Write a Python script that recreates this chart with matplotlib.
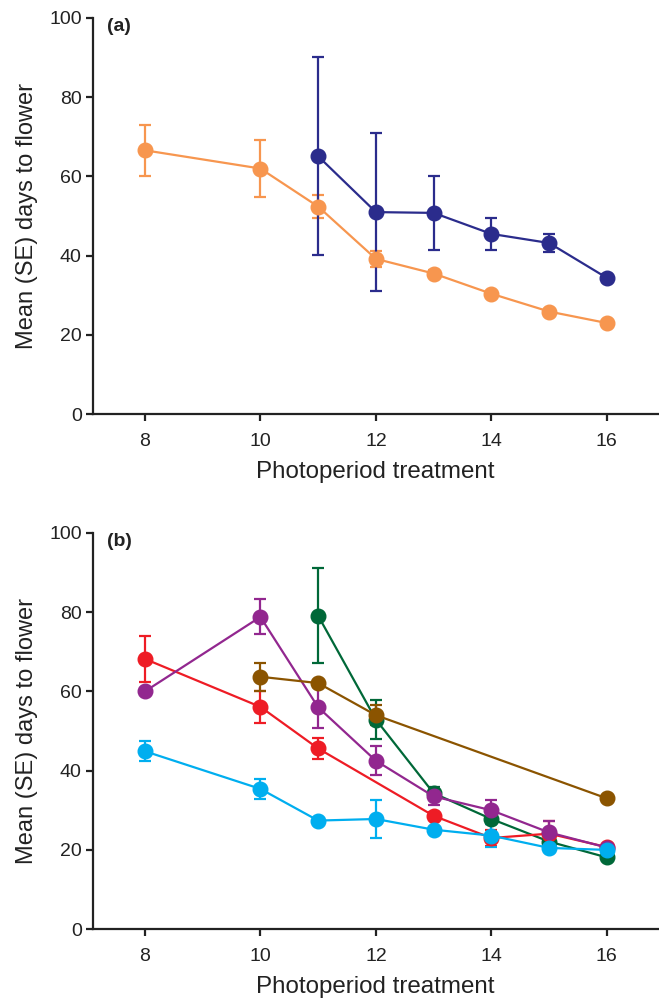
"""Days to flower against photoperiod treatment, two panels."""

import matplotlib

matplotlib.use("Agg", force=True)
import matplotlib.pyplot as plt

plt.rcParams["font.family"] = ["Liberation Sans", "DejaVu Sans"]

# panel (a)
a_orange_x = [8, 10, 11, 12, 13, 14, 15, 16]
a_orange_mean = [66.6, 62.0, 52.4, 39.2, 35.5, 30.4, 25.9, 23.0]
a_orange_se = [6.5, 7.1, 3.0, 2.0, 1.0, 0.6, 0.6, 0.5]

a_navy_x = [11, 12, 13, 14, 15, 16]
a_navy_mean = [65.1, 51.0, 50.8, 45.5, 43.2, 34.4]
a_navy_se = [25.0, 20.0, 9.3, 4.0, 2.3, 1.0]

# panel (b)
b_green_x = [11, 12, 13, 14, 15, 16]
b_green_mean = [79.1, 52.9, 34.3, 27.8, 22.1, 18.1]
b_green_se = [12.0, 5.0, 1.5, 1.3, 0.8, 0.6]

b_red_x = [8, 10, 11, 13, 14, 15, 16]
b_red_mean = [68.2, 56.1, 45.6, 28.6, 23.0, 24.1, 20.7]
b_red_se = [5.7, 4.1, 2.6, 1.0, 2.1, 3.2, 0.6]

b_purple_x = [8, 10, 11, 12, 13, 14, 15, 16]
b_purple_mean = [60.0, 78.8, 56.0, 42.5, 33.5, 30.0, 24.4, 20.6]
b_purple_se = [0.5, 4.4, 5.2, 3.7, 2.1, 2.7, 2.8, 0.6]

b_brown_x = [10, 11, 12, 16]
b_brown_mean = [63.7, 62.1, 54.0, 33.0]
b_brown_se = [3.5, 0.5, 2.5, 0.5]

b_cyan_x = [8, 10, 11, 12, 13, 14, 15, 16]
b_cyan_mean = [44.9, 35.4, 27.4, 27.8, 25.1, 23.6, 20.5, 20.0]
b_cyan_se = [2.5, 2.5, 0.5, 4.7, 0.8, 2.9, 0.8, 0.6]

x_ticks = [8, 10, 12, 14, 16]
y_ticks = [0, 20, 40, 60, 80, 100]


def _draw_series(ax, x, mean, se, color):
    ax.errorbar(
        x, mean, yerr=se, color=color, ecolor=color, marker="o",
        markersize=10.5, linewidth=1.6, elinewidth=1.6, capsize=4.5,
        capthick=1.6, clip_on=False,
    )


def _style_axes(ax, label):
    ax.set_xlim(7.1, 16.88)
    ax.set_ylim(0, 100)
    ax.set_xticks(x_ticks)
    ax.set_yticks(y_ticks)
    for side in ("top", "right"):
        ax.spines[side].set_visible(False)
    for side in ("left", "bottom"):
        ax.spines[side].set_linewidth(1.6)
        ax.spines[side].set_color("#222222")
    ax.tick_params(direction="out", length=5, width=1.6, color="#222222",
                   labelsize=14, pad=3, labelcolor="#222222")
    ax.tick_params(axis="x", pad=8.5)
    ax.set_xlabel("Photoperiod treatment", fontsize=17.4, labelpad=8,
                  color="#222222")
    ax.set_ylabel("Mean (SE) days to flower", fontsize=17, labelpad=8,
                  color="#222222")
    ax.text(0.025, 1.0, label, transform=ax.transAxes, fontsize=14,
            fontweight="bold", va="top", ha="left", color="#222222")


fig = plt.figure(figsize=(6.59, 9.98), dpi=100)
ax_a = fig.add_axes([0.141, 0.585, 0.857, 0.397])
ax_b = fig.add_axes([0.141, 0.069, 0.857, 0.397])

_draw_series(ax_a, a_orange_x, a_orange_mean, a_orange_se, "#F7964F")
_draw_series(ax_a, a_navy_x, a_navy_mean, a_navy_se, "#2B2C8C")
_style_axes(ax_a, "(a)")

_draw_series(ax_b, b_green_x, b_green_mean, b_green_se, "#006838")
_draw_series(ax_b, b_red_x, b_red_mean, b_red_se, "#EE1C25")
_draw_series(ax_b, b_purple_x, b_purple_mean, b_purple_se, "#92278F")
_draw_series(ax_b, b_brown_x, b_brown_mean, b_brown_se, "#8B5400")
_draw_series(ax_b, b_cyan_x, b_cyan_mean, b_cyan_se, "#00AEEF")
_style_axes(ax_b, "(b)")

fig.savefig("out.png", dpi=100)
plt.close(fig)
